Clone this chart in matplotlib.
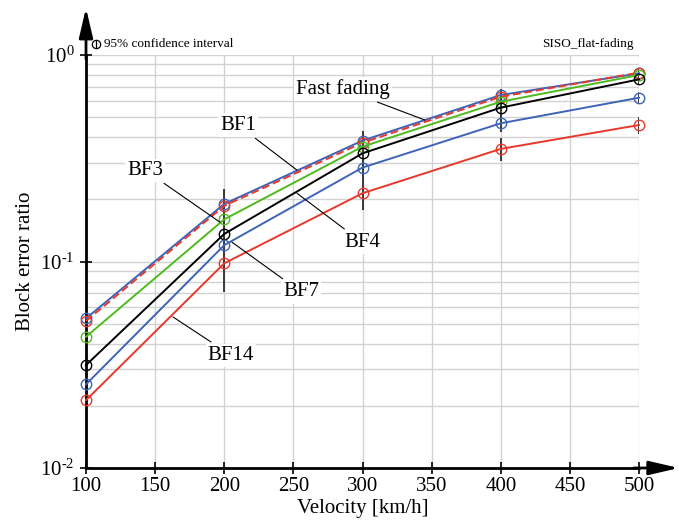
import numpy as np
import matplotlib
matplotlib.use('Agg')
import matplotlib.pyplot as plt
from matplotlib.ticker import LogLocator, MultipleLocator, FuncFormatter

plt.rcParams['font.family'] = ['Liberation Serif', 'DejaVu Serif']
plt.rcParams['mathtext.fontset'] = 'custom'
plt.rcParams['mathtext.rm'] = 'Liberation Serif'
plt.rcParams['mathtext.it'] = 'Liberation Serif:italic'

# ---- data ----
velocity = [100, 200, 300, 400, 500]
fast_fading = [0.053, 0.190, 0.385, 0.640, 0.815]
bf1 = [0.0515, 0.186, 0.376, 0.628, 0.821]
bf3 = [0.0432, 0.160, 0.360, 0.594, 0.800]
bf4 = [0.0315, 0.136, 0.334, 0.556, 0.762]
bf7 = [0.0254, 0.120, 0.285, 0.467, 0.621]
bf14 = [0.0213, 0.098, 0.214, 0.351, 0.458]
n_blocks = 470  # blocks per point, for the 95% confidence interval

BLUE = '#3f63b8'
RED = '#e8382c'
GREEN = '#4fba1e'

fig = plt.figure(figsize=(6.79, 5.31), dpi=100)
ax = fig.add_axes([86/679, 1-468/531, (639-86)/679, (468-55)/531])

series = [
    (fast_fading, BLUE, '-'),
    (bf1, RED, (0, (4, 2))),
    (bf3, GREEN, '-'),
    (bf4, 'black', '-'),
    (bf7, BLUE, '-'),
    (bf14, RED, '-'),
]
for vals, col, ls in series:
    ax.plot(velocity, vals, color=col, lw=1.4, ls=ls, marker='o', ms=7.5,
            mfc='none', mec=col, mew=1.0, zorder=3, clip_on=False)

# confidence intervals
for vals, col, ls in series:
    p = np.array(vals)
    err = 1.96 * np.sqrt(p * (1 - p) / n_blocks)
    ax.vlines(velocity, p - err, p + err, color='#3a3a3a', lw=1.4, zorder=2.4)

ax.set_yscale('log')
ax.set_xlim(100, 500)
ax.set_ylim(0.01, 1.0)
ax.xaxis.set_major_locator(MultipleLocator(50))
ax.yaxis.set_major_locator(LogLocator(base=10, numticks=10))
ax.yaxis.set_minor_locator(LogLocator(base=10, subs=np.arange(2, 10), numticks=20))


def _fmt(v, pos):
    k = int(round(np.log10(v)))
    if k < 0:
        return r'$10^{\text{-}%d}$' % (-k)
    return r'$10^{%d}$' % k


ax.yaxis.set_major_formatter(FuncFormatter(_fmt))

ax.grid(True, which='major', color='#d2d2d2', lw=1.0, zorder=0)
ax.grid(True, which='minor', axis='y', color='#d2d2d2', lw=1.0, zorder=0)
ax.set_axisbelow(True)

for s in ['top', 'right']:
    ax.spines[s].set_visible(False)
for s in ['left', 'bottom']:
    ax.spines[s].set_linewidth(2.0)

ax.tick_params(axis='both', which='major', direction='inout', length=9, width=1.2,
               labelsize=15)
ax.tick_params(axis='y', which='minor', length=0)
ax.tick_params(axis='x', pad=2)

ax.set_xlabel('Velocity [km/h]', fontsize=15, labelpad=2)
ax.set_ylabel('Block error ratio', fontsize=15, labelpad=4)

# axis arrows
arrow_style = '-|>,head_length=1.2,head_width=0.28'
ax.annotate('', xy=(0, 1.114), xytext=(0, 0.99), xycoords='axes fraction',
            arrowprops=dict(arrowstyle=arrow_style, lw=2.0, color='black',
                            mutation_scale=15, shrinkA=0, shrinkB=0))
ax.annotate('', xy=(1.072, 0), xytext=(0.99, 0), xycoords='axes fraction',
            arrowprops=dict(arrowstyle=arrow_style, lw=2.0, color='black',
                            mutation_scale=15, shrinkA=0, shrinkB=0))

# header texts
ax.plot([0.018], [1.027], transform=ax.transAxes, marker='o', ms=6, mfc='none',
        mec='black', mew=0.9, clip_on=False)
ax.plot([0.018], [1.027], transform=ax.transAxes, marker='|', ms=6,
        mec='black', mew=0.9, clip_on=False)
ax.text(0.032, 1.027, '95% confidence interval', transform=ax.transAxes,
        fontsize=9.5, ha='left', va='center')
ax.text(0.99, 1.027, 'SISO_flat-fading', transform=ax.transAxes,
        fontsize=9.5, ha='right', va='center')

# labels with leader lines
labels = [
    ('Fast fading', (345.2, 0.484), (285.9, 0.684)),
    ('BF1', (252.6, 0.277), (209.9, 0.458)),
    ('BF3', (196.9, 0.155), (142.7, 0.277)),
    ('BF4', (252.6, 0.214), (299.6, 0.124)),
    ('BF7', (205.6, 0.124), (255.5, 0.0712)),
    ('BF14', (162.9, 0.0539), (204.9, 0.0352)),
]
for txt, xy, xyt in labels:
    ax.annotate(txt, xy=xy, xytext=xyt, fontsize=15, ha='center', va='center',
                bbox=dict(boxstyle='square,pad=0.1', fc='white', ec='none'),
                arrowprops=dict(arrowstyle='-', color='black', lw=0.8,
                                shrinkA=2, shrinkB=0),
                zorder=5)

fig.savefig('out.png', dpi=100)
